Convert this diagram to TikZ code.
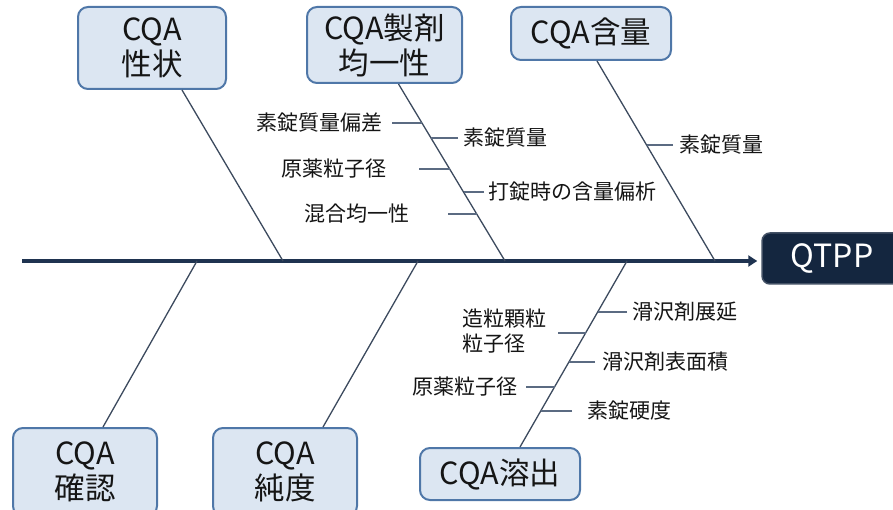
\documentclass[tikz,border=0pt]{standalone}
\usepackage{fontspec}
\setmainfont{Noto Sans CJK JP}
\usetikzlibrary{arrows.meta}
\definecolor{boxfill}{HTML}{DCE6F2}
\definecolor{boxdraw}{HTML}{4F77A8}
\definecolor{bonecol}{HTML}{3C4A5E}
\definecolor{tickcol}{HTML}{5B6B82}
\definecolor{spinecol}{HTML}{1F3350}
\definecolor{qtppfill}{HTML}{14263F}
\definecolor{txt}{HTML}{151515}
\tikzset{
  cqabox/.style={draw=boxdraw, fill=boxfill, line width=2pt, rounded corners=10pt,
    align=center, font=\fontsize{30.5}{35}\selectfont, text=txt, inner sep=0pt},
  bone/.style={draw=bonecol, line width=1.3pt},
  ticklin/.style={draw=tickcol, line width=1.8pt},
  lbl/.style={font=\fontsize{21}{25}\selectfont, text=txt, inner sep=0pt},
  spine/.style={draw=spinecol, line width=3.5pt, -{Triangle[length=9pt,width=11pt]}}
}
\begin{document}
\begin{tikzpicture}[x=1pt,y=-1pt]
\useasboundingbox (0,0) rectangle (893,510);
% boxes
\node[cqabox, minimum width=148pt, minimum height=82pt] (seijo) at (152,48) {CQA\\性状};
\node[cqabox, minimum width=155pt, minimum height=76pt] (kinitsu) at (384.5,45) {CQA製剤\\均一性};
\node[cqabox, minimum width=160pt, minimum height=53pt] (ganryo) at (591,33.5) {CQA含量};
\node[cqabox, minimum width=144pt, minimum height=88pt] (kakunin) at (85,472) {CQA\\確認};
\node[cqabox, minimum width=144pt, minimum height=88pt] (jundo) at (285,472) {CQA\\純度};
\node[cqabox, minimum width=160pt, minimum height=52pt] (yoshutsu) at (500,474) {CQA溶出};
\node[draw=qtppfill!80!white, fill=qtppfill, rounded corners=8pt, line width=1.5pt,
  minimum width=140pt, minimum height=51pt, inner sep=0pt, text=white,
  font=\fontsize{32}{36}\selectfont] (qtpp) at (832,258.5) {QTPP};
% spine
\coordinate (sp0) at (22,261);
\draw[spine, shorten >=4pt] (sp0) -- (sp0 -| qtpp.west);
% bone joints on spine
\coordinate (j1) at (283,261);
\coordinate (j2) at (505,261);
\coordinate (j3) at (715,261);
\coordinate (j4) at (197,261);
\coordinate (j5) at (418,261);
\coordinate (j6) at (627,261);
\draw[bone] ([xshift=30]seijo.south) -- (j1);
\draw[bone] ([xshift=14]kinitsu.south) -- (j2);
\draw[bone] ([xshift=6]ganryo.south) -- (j3);
\draw[bone] ([xshift=18]kakunin.north) -- (j4);
\draw[bone] ([xshift=38]jundo.north) -- (j5);
\draw[bone] ([xshift=20]yoshutsu.north) -- (j6);
% sub-causes on kinitsu bone
\node[lbl, anchor=east] (l1) at (383,123) {素錠質量偏差};
\coordinate (k1) at (422,123);
\draw[ticklin] ([xshift=9]l1.east) -- (k1);
\node[lbl, anchor=west] (l2) at (463,138) {素錠質量};
\coordinate (k2) at (431,138);
\draw[ticklin] ([xshift=-5]l2.west) -- (k2);
\node[lbl, anchor=east] (l3) at (387,169) {原薬粒子径};
\coordinate (k3) at (450,169);
\draw[ticklin] ([xshift=32]l3.east) -- (k3);
\node[lbl, anchor=west] (l4) at (488,192) {打錠時の含量偏析};
\coordinate (k4) at (463.5,192);
\draw[ticklin] ([xshift=-4]l4.west) -- (k4);
\node[lbl, anchor=east] (l5) at (410,214) {混合均一性};
\coordinate (k5) at (477,214);
\draw[ticklin] ([xshift=38]l5.east) -- (k5);
% sub-cause on ganryo bone
\node[lbl, anchor=west] (l6) at (679,145) {素錠質量};
\coordinate (k6) at (647,145);
\draw[ticklin] ([xshift=-6]l6.west) -- (k6);
% sub-causes on yoshutsu bone
\node[lbl, anchor=west] (l7) at (632,312) {滑沢剤展延};
\coordinate (k7) at (598,312);
\draw[ticklin] ([xshift=-5]l7.west) -- (k7);
\node[lbl, anchor=west, align=left] (l8) at (462,331) {造粒顆粒\\粒子径};
\coordinate (k8) at (586,333);
\draw[ticklin] (k8 -| 558,0) -- (k8);
\node[lbl, anchor=east] (l10) at (518,387) {原薬粒子径};
\coordinate (k10) at (555,387);
\draw[ticklin] ([xshift=8]l10.east) -- (k10);
\node[lbl, anchor=west] (l9) at (602,362) {滑沢剤表面積};
\coordinate (k9) at (569,362);
\draw[ticklin] ([xshift=-7]l9.west) -- (k9);
\node[lbl, anchor=west] (l11) at (587,411) {素錠硬度};
\coordinate (k11) at (541,411);
\draw[ticklin] ([xshift=-15]l11.west) -- (k11);
\end{tikzpicture}
\end{document}
